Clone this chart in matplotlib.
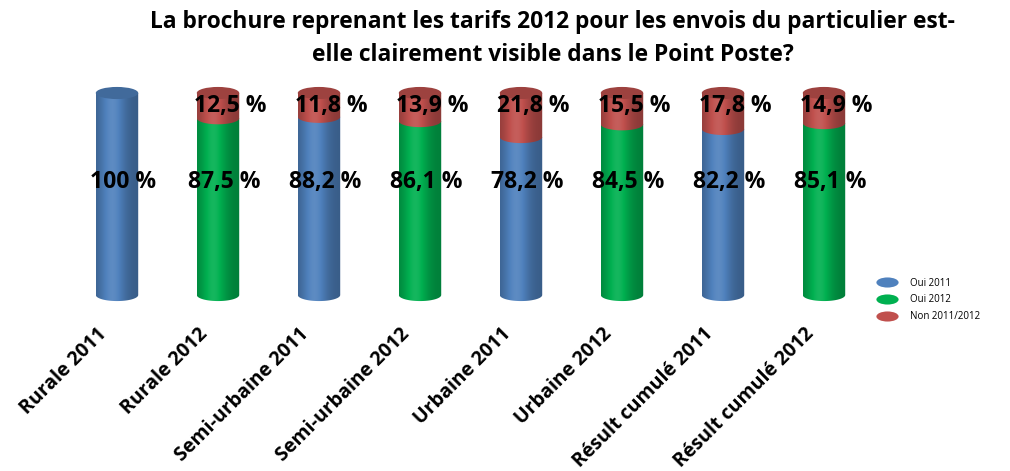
import numpy as np
import matplotlib.pyplot as plt
import matplotlib.transforms as mtransforms
from matplotlib.path import Path
from matplotlib.patches import PathPatch, Ellipse
from matplotlib.lines import Line2D
from matplotlib.colors import to_rgb

plt.rcParams['font.family'] = ['Open Sans', 'DejaVu Sans']

categories = ["Rurale 2011", "Rurale 2012", "Semi-urbaine 2011", "Semi-urbaine 2012",
              "Urbaine 2011", "Urbaine 2012", "Résult cumulé 2011", "Résult cumulé 2012"]
oui = [100, 87.5, 88.2, 86.1, 78.2, 84.5, 82.2, 85.1]
non = [0, 12.5, 11.8, 13.9, 21.8, 15.5, 17.8, 14.9]
annee = [2011, 2012, 2011, 2012, 2011, 2012, 2011, 2012]
legend_labels = ["Oui 2011", "Oui 2012", "Non 2011/2012"]

c_blue = "#4f81bd"
c_green = "#00b050"
c_red = "#c0504d"

fig = plt.figure(figsize=(10.10, 4.71), dpi=100)
# 0 -> y=295px, 100 -> y=93px
ax = fig.add_axes([66.5 / 1010, 165.9 / 471, 808 / 1010, 222.2 / 471])
ax.set_xlim(-0.5, 7.5)
ax.set_ylim(-5, 105)
ax.axis('off')

w = 0.42
eh = 6.0


def shade(c, f):
    r = np.array(to_rgb(c))
    if f >= 1:
        return tuple(r + (1 - r) * (f - 1))
    return tuple(r * f)


def gradient(c):
    t = np.linspace(0, 1, 60)
    prof = 0.72 + 0.36 * np.exp(-((t - 0.38) / 0.3) ** 2)
    img = np.array([[shade(c, p) for p in prof]])
    return np.clip(img, 0, 1)


def segment(x, b, t, c):
    th = np.linspace(np.pi, 2 * np.pi, 40)
    arc = np.column_stack([x + w / 2 * np.cos(th), b + eh / 2 * np.sin(th)])
    verts = np.vstack([[x - w / 2, t], arc, [x + w / 2, t], [x - w / 2, t]])
    patch = PathPatch(Path(verts, closed=True), facecolor='none', edgecolor='none')
    ax.add_patch(patch)
    im = ax.imshow(gradient(c), extent=[x - w / 2, x + w / 2, b - eh / 2 - 0.5, t],
                   aspect='auto', zorder=2, interpolation='bilinear')
    im.set_clip_path(patch)


for i in range(len(categories)):
    col = c_blue if annee[i] == 2011 else c_green
    segment(i, 0, oui[i], col)
    top = oui[i]
    topcol = col
    if non[i] > 0:
        segment(i, oui[i], oui[i] + non[i], c_red)
        top = oui[i] + non[i]
        topcol = c_red
    ax.add_patch(Ellipse((i, top), w, eh, facecolor=shade(topcol, 0.82),
                         edgecolor='none', zorder=3))
    ax.text(i + 0.06, 56, f"{oui[i]:g} %".replace('.', ','), ha='center', va='center',
            fontsize=16.5, fontweight='bold', zorder=5)
    if non[i] > 0:
        ax.text(i + 0.12, 93.5, f"{non[i]:g} %".replace('.', ','), ha='center', va='center',
                fontsize=16.5, fontweight='bold', zorder=5)
    ax.text(i - 0.13, -18, categories[i], rotation=45, rotation_mode='anchor',
            ha='right', va='center', fontsize=14, fontweight='bold', clip_on=False)

fig.text(0.547, 0.953, "La brochure reprenant les tarifs 2012 pour les envois du particulier est-",
         ha='center', va='center', fontsize=16.4, fontweight='bold')
fig.text(0.547, 0.883, "elle clairement visible dans le Point Poste?",
         ha='center', va='center', fontsize=16.4, fontweight='bold')

ell = Path.unit_circle().transformed(mtransforms.Affine2D().scale(2.2, 1))
handles = [Line2D([], [], linestyle='none', marker=ell, markersize=16, color=c, markeredgewidth=0)
           for c in [c_blue, c_green, c_red]]
fig.legend(handles, legend_labels, loc='center left', bbox_to_anchor=(868 / 1010, 171 / 471),
           frameon=False, fontsize=7, handlelength=2.2, labelspacing=0.6, handletextpad=1.2)

fig.savefig("out.png", dpi=100)
